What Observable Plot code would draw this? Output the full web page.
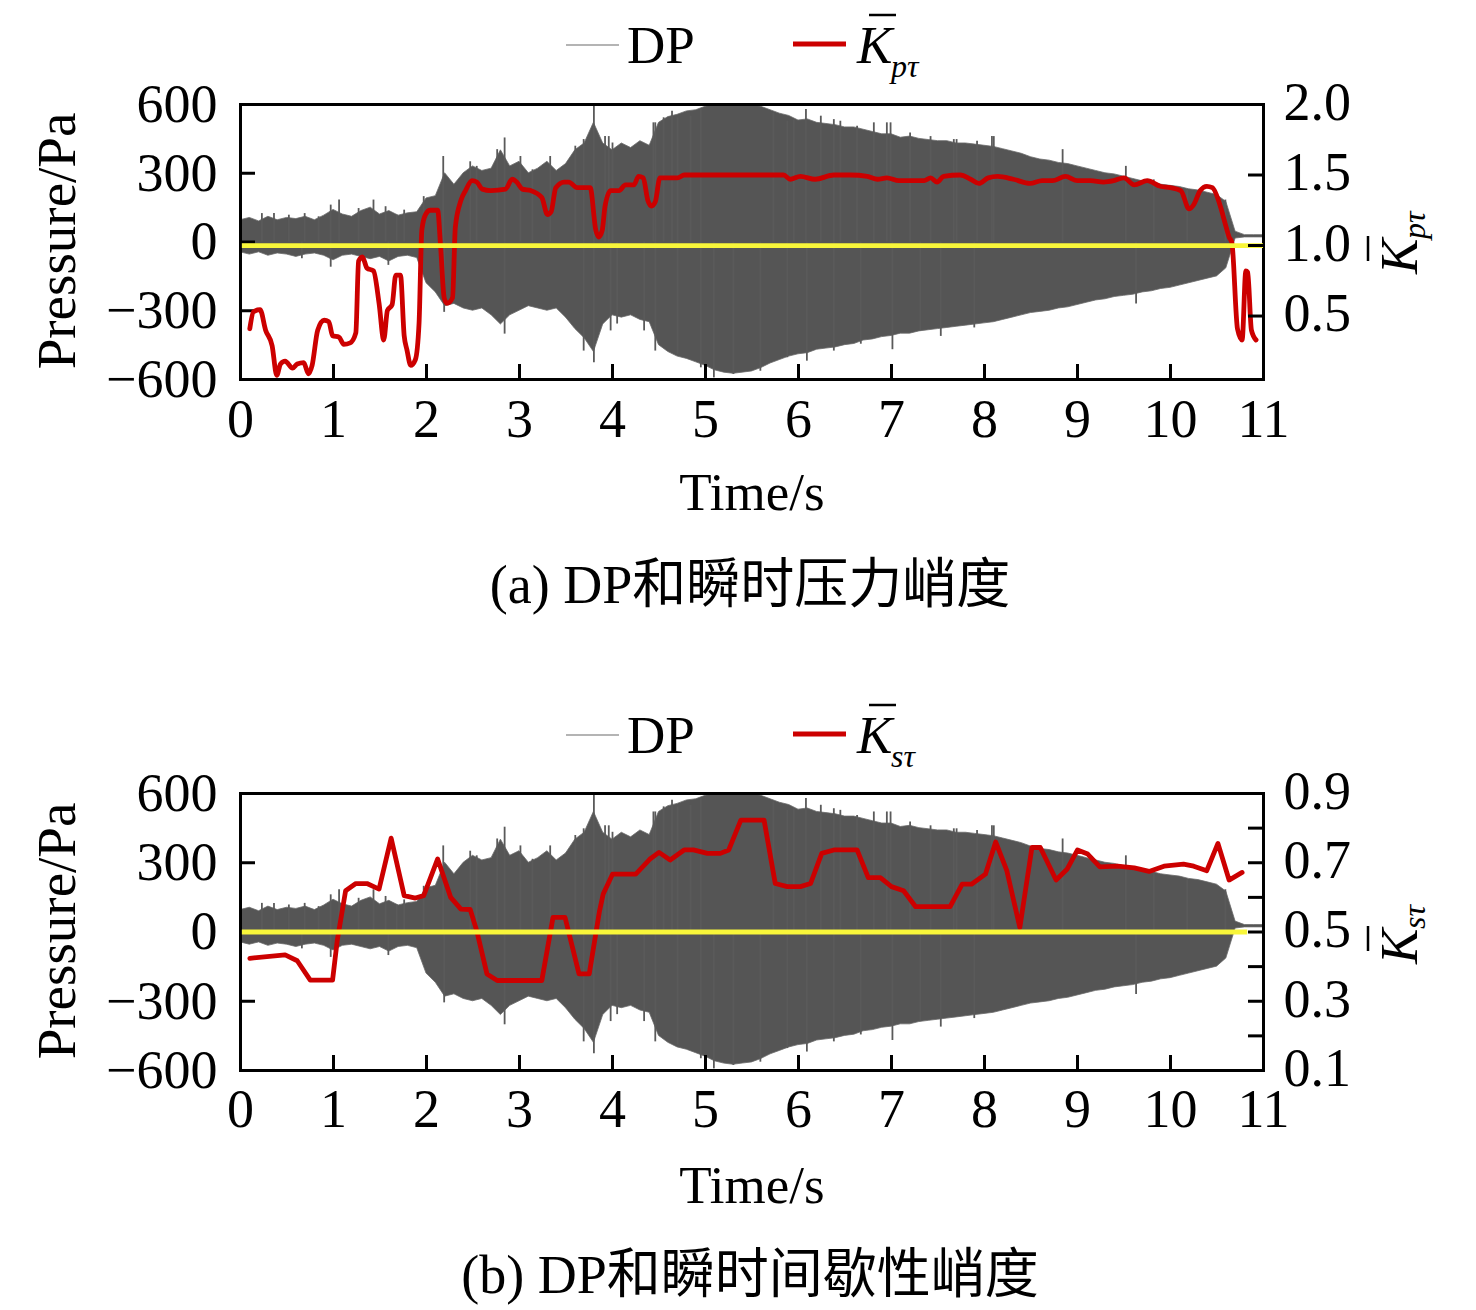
<!DOCTYPE html>
<html><head><meta charset="utf-8">
<script src="https://cdn.jsdelivr.net/npm/d3@7"></script>
<script src="https://cdn.jsdelivr.net/npm/@observablehq/plot@0.6"></script>
<style>
html,body{margin:0;padding:0;background:#fff;overflow:hidden}
#root{position:relative;width:1476px;height:1310px;background:#fff}
#root svg{position:absolute;left:0}
svg text{font-family:'Liberation Serif','Times New Roman',serif}
.cap{font-family:'Liberation Serif','Noto Sans CJK SC',serif}
</style></head><body>
<div id="root"></div>
<script>
// ---- DP envelope (Pa) at 0.1 s steps ----
const dpT = [0.0,0.1,0.2,0.3,0.4,0.5,0.6,0.7,0.8,0.9,1.0,1.1,1.2,1.3,1.4,1.5,1.6,1.7,1.8,1.9,2.0,2.1,2.2,2.3,2.4,2.5,2.6,2.7,2.8,2.9,3.0,3.1,3.2,3.3,3.4,3.5,3.6,3.7,3.8,3.9,4.0,4.1,4.2,4.3,4.4,4.5,4.6,4.7,4.8,4.9,5.0,5.1,5.2,5.3,5.4,5.5,5.6,5.7,5.8,5.9,6.0,6.1,6.2,6.3,6.4,6.5,6.6,6.7,6.8,6.9,7.0,7.1,7.2,7.3,7.4,7.5,7.6,7.7,7.8,7.9,8.0,8.1,8.2,8.3,8.4,8.5,8.6,8.7,8.8,8.9,9.0,9.1,9.2,9.3,9.4,9.5,9.6,9.7,9.8,9.9,10.0,10.1,10.2,10.3,10.4,10.5,10.6,10.7,10.8,10.9,11.0];
const dpHi = [95,105,90,110,95,105,100,110,95,115,140,120,110,135,150,120,135,115,125,130,190,200,300,250,300,330,310,320,400,330,350,300,320,350,310,340,400,430,520,430,400,430,410,440,420,520,545,555,570,575,590,600,600,600,600,600,590,575,560,550,530,535,520,515,510,500,500,490,480,470,470,455,460,450,445,440,440,430,430,425,420,415,405,395,385,370,360,355,345,340,330,320,310,300,295,285,275,265,260,250,245,240,230,225,215,205,175,45,30,30,30];
const dpLo = [-45,-55,-45,-60,-50,-55,-65,-55,-50,-60,-80,-60,-55,-65,-75,-65,-85,-65,-60,-70,-180,-220,-280,-270,-290,-300,-290,-320,-360,-320,-300,-280,-290,-300,-290,-330,-380,-420,-480,-360,-320,-330,-320,-340,-350,-450,-480,-500,-510,-525,-540,-560,-570,-575,-570,-565,-550,-530,-515,-500,-490,-485,-470,-465,-460,-450,-445,-430,-425,-415,-410,-400,-400,-390,-385,-380,-375,-370,-365,-360,-355,-350,-340,-330,-320,-310,-305,-300,-290,-285,-275,-265,-255,-250,-240,-235,-230,-220,-215,-205,-200,-190,-180,-170,-160,-150,-115,15,20,20,20];
// visible single spikes of DP
const spikeT = [0.23,0.36,0.52,0.69,0.84,0.97,1.06,1.27,1.43,1.56,1.68,1.76,1.97,2.18,2.47,2.54,2.76,2.84,3.01,3.14,3.33,3.60,3.69,3.80,3.96,0.97,0.66,1.59,2.19,2.84,3.80,3.69,3.92,4.00,4.44,4.64,4.70,5.95,6.08,6.38,6.95,7.70,8.10,3.98,5.09,6.09,7.01,7.53,8.84,9.52,9.82,10.18,10.59,9.63,
  4.46,4.55,4.84,4.95,5.73,5.88,6.24,6.45,6.63,6.81,6.99,7.20,7.42,7.67,7.92,8.08,
  4.05,4.34,4.46,4.70,4.95,5.30,5.59,5.88,6.38,6.67,7.31,7.89];
const spikeV = [124,124,117,124,110,161,183,146,183,154,117,139,198,373,350,330,403,454,373,315,373,418,447,600,460,-110,-73,-102,-307,-402,-527,-476,460,432,520,571,542,534,578,534,520,447,460,-388,-593,-520,-470,-412,403,330,271,227,183,-271,
  520,542,549,578,563,527,549,527,505,520,520,476,460,447,440,460,
  -358,-388,-476,-490,-549,-578,-564,-505,-476,-446,-388,-375];

// ---- instantaneous pressure kurtosis K_ptau ----
const kpT = [0.10,0.14,0.21,0.27,0.34,0.39,0.43,0.48,0.56,0.61,0.68,0.73,0.77,0.83,0.90,0.95,0.99,1.06,1.11,1.18,1.24,1.27,1.31,1.36,1.43,1.49,1.54,1.58,1.63,1.67,1.72,1.76,1.79,1.83,1.88,1.92,1.95,1.99,2.04,2.12,2.15,2.19,2.22,2.28,2.31,2.37,2.42,2.49,2.54,2.60,2.69,2.85,2.92,2.97,3.03,3.12,3.24,3.30,3.34,3.39,3.48,3.53,3.62,3.76,3.82,3.85,3.89,3.92,3.98,4.07,4.14,4.23,4.28,4.33,4.38,4.42,4.46,4.51,4.59,4.70,4.77,4.95,5.30,5.84,5.91,6.02,6.18,6.38,6.56,6.74,6.85,6.95,7.08,7.24,7.35,7.42,7.49,7.56,7.74,7.85,7.94,8.04,8.14,8.31,8.49,8.62,8.73,8.87,9.00,9.14,9.28,9.39,9.50,9.61,9.75,9.89,10.00,10.11,10.20,10.25,10.32,10.39,10.45,10.54,10.59,10.63,10.66,10.72,10.77,10.81,10.83,10.87,10.92];
const kpV = [0.41,0.53,0.545,0.40,0.29,0.08,0.16,0.18,0.13,0.16,0.17,0.09,0.15,0.40,0.47,0.46,0.36,0.35,0.30,0.31,0.38,0.89,0.92,0.84,0.82,0.59,0.33,0.54,0.58,0.79,0.79,0.36,0.26,0.15,0.19,0.45,1.11,1.22,1.25,1.25,1.01,0.63,0.59,0.63,1.13,1.32,1.39,1.46,1.45,1.40,1.39,1.40,1.47,1.45,1.40,1.39,1.34,1.22,1.24,1.41,1.45,1.45,1.41,1.41,1.11,1.06,1.11,1.28,1.39,1.39,1.43,1.43,1.49,1.48,1.32,1.28,1.31,1.48,1.48,1.48,1.50,1.50,1.50,1.50,1.47,1.49,1.47,1.50,1.50,1.49,1.47,1.48,1.46,1.46,1.46,1.48,1.45,1.49,1.50,1.47,1.44,1.48,1.49,1.47,1.44,1.46,1.46,1.49,1.46,1.46,1.45,1.46,1.48,1.43,1.46,1.42,1.41,1.39,1.26,1.29,1.39,1.42,1.41,1.27,1.15,1.06,1.02,0.41,0.33,0.82,0.81,0.40,0.33];

// ---- instantaneous intermittency kurtosis K_stau ----
const ksT = [0.10,0.48,0.61,0.75,0.99,1.04,1.13,1.24,1.36,1.49,1.62,1.76,1.88,1.97,2.12,2.26,2.37,2.47,2.54,2.65,2.76,3.24,3.36,3.49,3.64,3.75,3.86,3.90,4.00,4.25,4.40,4.50,4.62,4.77,4.87,5.02,5.16,5.25,5.38,5.63,5.75,5.88,6.02,6.13,6.25,6.38,6.63,6.75,6.88,7.00,7.13,7.26,7.63,7.76,7.86,8.01,8.12,8.24,8.38,8.51,8.60,8.77,8.89,9.00,9.11,9.24,9.43,9.61,9.77,9.93,10.14,10.25,10.39,10.51,10.63,10.77];
const ksV = [0.424,0.434,0.417,0.361,0.361,0.475,0.619,0.64,0.64,0.624,0.771,0.605,0.598,0.605,0.711,0.60,0.566,0.565,0.504,0.379,0.36,0.36,0.542,0.542,0.379,0.379,0.56,0.61,0.667,0.667,0.71,0.73,0.708,0.737,0.737,0.727,0.727,0.737,0.823,0.823,0.64,0.631,0.631,0.64,0.727,0.737,0.737,0.657,0.657,0.631,0.619,0.573,0.573,0.638,0.638,0.667,0.760,0.677,0.513,0.744,0.744,0.65,0.682,0.737,0.725,0.688,0.69,0.685,0.675,0.69,0.696,0.69,0.677,0.756,0.65,0.672];

// ---- ticks ----
const xTicks = [0,1,2,3,4,5,6,7,8,9,10,11];
const pTicks = [600,300,0,-300,-600];
const pInner = [300,0,-300];
const kpTickLabels = [2.0,1.5,1.0,0.5];
const kpTickMarks = [1.5,1.0,0.5];
const ksTickLabels = [0.9,0.7,0.5,0.3,0.1];
const ksTickMarks = [0.8,0.7,0.6,0.5,0.4,0.3,0.2];

const dp = dpT.map((t,i)=>({t, hi: dpHi[i], lo: dpLo[i]}));
const spikes = spikeT.map((t,i)=>({t, v: spikeV[i]}));
const kp = kpT.map((t,i)=>({t, k: kpV[i]}));
const ks = ksT.map((t,i)=>({t, k: ksV[i]}));

const fmtP = d => d < 0 ? "\u2212" + (-d) : String(d);
const root = document.getElementById("root");
const W = 1476, mL = 240, mR = 213, mB = 60, frameW = W - mL - mR;
const FS = 54;
const style = {fontFamily:"'Liberation Serif','Times New Roman',serif", fontSize: FS+"px", background:"transparent", overflow:"visible"};

function panel(o){
  const H = o.mT + o.frameH + mB;
  const base = Plot.plot({
    width: W, height: H, marginLeft: mL, marginRight: mR, marginTop: o.mT, marginBottom: mB, style,
    x: {domain:[0,11], label:null}, y: {domain:[-600,600], label:null},
    marks: [
      Plot.areaY(dp, {x:"t", y1:"lo", y2:"hi", fill:"#555555", stroke:"#6a6a6a", strokeWidth:0.8, clip:true}),
      Plot.ruleX(spikes, {x:"t", y1:0, y2:"v", stroke:"#5a5a5a", strokeWidth:1.8, clip:true}),
      Plot.tickX(xTicks, {x:d=>d, insetTop:o.frameH-15, stroke:"#000", strokeWidth:3}),
      Plot.tickY(pInner, {y:d=>d, insetRight:frameW-15, stroke:"#000", strokeWidth:3}),
      Plot.axisX(xTicks, {tickSize:0, tickPadding:o.xPad, fontSize:FS, label:null, tickFormat:d=>String(d)}),
      Plot.axisY(pTicks, {anchor:"left", tickSize:0, tickPadding:23, fontSize:FS, label:null, tickFormat:fmtP}),
      Plot.frame({stroke:"#000", strokeWidth:3})
    ]
  });
  const over = Plot.plot({
    width: W, height: H, marginLeft: mL, marginRight: mR, marginTop: o.mT, marginBottom: mB, style,
    x: {domain:[0,11], axis:null, label:null}, y: {domain:o.kDomain, label:null},
    marks: [
      Plot.line(o.k, {x:"t", y:"k", stroke:"#cc0000", strokeWidth:4.8, strokeLinejoin:"round", curve:o.curve, clip:true}),
      Plot.ruleY([o.yellow], {x1:0.02, x2:o.yellowEnd, stroke:"#f8f63a", strokeWidth:4.8}),
      Plot.tickY(o.kMarks, {y:d=>d, insetLeft:frameW-15, stroke:"#000", strokeWidth:3}),
      Plot.axisY(o.kLabels, {anchor:"right", tickSize:0, tickPadding:20, fontSize:FS, dy:-2, label:null, tickFormat:d=>d.toFixed(1)})
    ]
  });
  base.style.top = o.top + "px";
  over.style.top = o.top + "px";
  root.appendChild(base);
  root.appendChild(over);
}

panel({top:90, mT:14, frameH:275, xPad:19, k:kp, curve:"monotone-x", kDomain:[0.05,2.0], kLabels:kpTickLabels, kMarks:kpTickMarks, yellow:1.0, yellowEnd:11});
panel({top:780, mT:13, frameH:277, xPad:18, k:ks, curve:"linear", kDomain:[0.1,0.9], kLabels:ksTickLabels, kMarks:ksTickMarks, yellow:0.5, yellowEnd:10.83});

// ---- legends, axis titles, captions ----
function texts(dy, sub, dyT, caption){
  return `
  <line x1="566" x2="619" y1="${45+dy}" y2="${45+dy}" stroke="#9b9b9b" stroke-width="1.6"/>
  <text x="627" y="${63+dy}" font-size="53">DP</text>
  <line x1="793" x2="846" y1="${44+dy}" y2="${44+dy}" stroke="#cc0000" stroke-width="5"/>
  <text x="857" y="${63+dy}" font-size="53" font-style="italic">K</text>
  <line x1="869" x2="896" y1="${15+dy}" y2="${15+dy}" stroke="#000" stroke-width="2.5"/>
  <text x="891" y="${77+dy}" font-size="32" font-style="italic">${sub}</text>
  <text transform="translate(75,${241+dy}) rotate(-90)" text-anchor="middle" font-size="55">Pressure/Pa</text>
  <g transform="translate(1417,${242+dy}) rotate(-90)">
    <text x="-32" y="0" font-size="53" font-style="italic">K</text>
    <text x="3" y="8" font-size="32" font-style="italic">${sub}</text>
    <line x1="-19" x2="6" y1="-49" y2="-49" stroke="#000" stroke-width="2.5"/>
  </g>
  <text x="752" y="${510+dyT}" text-anchor="middle" font-size="53">Time/s</text>
  <text class="cap" x="750" y="${603+dy}" text-anchor="middle" font-size="54">${caption}</text>`;
}
const ov = document.createElementNS("http://www.w3.org/2000/svg","svg");
ov.setAttribute("width", W); ov.setAttribute("height", 1310);
ov.style.top = "0px";
ov.innerHTML = texts(0, "p\u03c4", 0, "(a) DP和瞬时压力峭度") + texts(690, "s\u03c4", 693, "(b) DP和瞬时间歇性峭度");
root.appendChild(ov);
</script>
</body></html>
